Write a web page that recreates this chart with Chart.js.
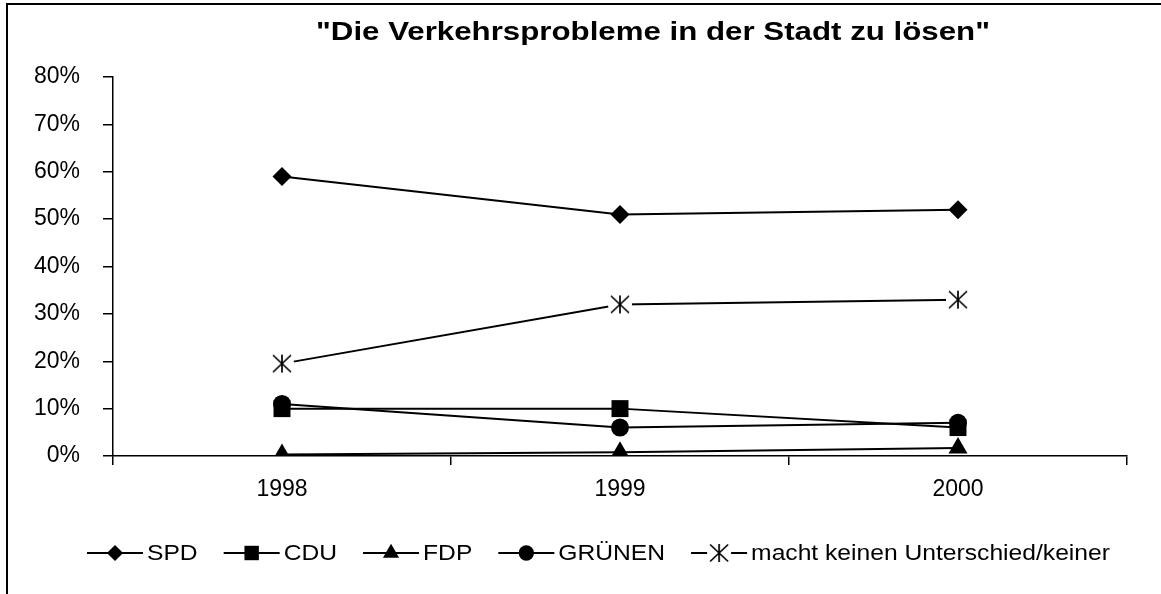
<!DOCTYPE html>
<html><head><meta charset="utf-8">
<script src="https://cdn.jsdelivr.net/npm/chart.js@4.4.1/dist/chart.umd.min.js"></script>
<style>html,body{margin:0;padding:0;background:#fff;}canvas{display:block}</style>
</head><body>
<canvas id="c" width="1161" height="594"></canvas>
<script>
// ---- data ----
const years = ['1998', '1999', '2000'];
const seriesNames = ['SPD', 'CDU', 'FDP', 'GRÜNEN', 'macht keinen Unterschied/keiner'];
const spd = [59, 51, 52];
const cdu = [10, 10, 6];
const fdp = [0.3, 0.8, 1.7];
const gruenen = [11, 6, 7];
const keiner = [19.5, 32, 33];
const yTickValues = [0, 10, 20, 30, 40, 50, 60, 70, 80];
const titleText = '"Die Verkehrsprobleme in der Stadt zu lösen"';

const FONT = 'Liberation Sans';

function makeStar() {
  const c = document.createElement('canvas');
  c.width = 26; c.height = 26;
  const g = c.getContext('2d');
  g.fillStyle = '#fff';
  g.beginPath(); g.arc(13, 13, 12, 0, Math.PI * 2); g.fill();
  g.strokeStyle = '#000'; g.lineWidth = 1.7;
  g.beginPath();
  g.moveTo(13, 4); g.lineTo(13, 22);
  g.moveTo(4, 4.5); g.lineTo(22, 21.5);
  g.moveTo(22, 4.5); g.lineTo(4, 21.5);
  g.stroke();
  return c;
}
const starImg = makeStar();

const styles = [
  { pointStyle: 'rectRot', radius: 9.5 },
  { pointStyle: 'rect', radius: 12 },
  { pointStyle: 'triangle', radius: 11 },
  { pointStyle: 'circle', radius: 9 },
  { pointStyle: starImg, radius: 10 }
];
const seriesValues = [spd, cdu, fdp, gruenen, keiner];

const datasets = seriesValues.map((vals, i) => ({
  label: seriesNames[i],
  data: vals,
  borderColor: '#000',
  backgroundColor: '#000',
  borderWidth: 2,
  pointStyle: styles[i].pointStyle,
  pointRadius: styles[i].radius,
  pointBackgroundColor: '#000',
  pointBorderColor: '#000',
  pointBorderWidth: 0,
  tension: 0,
  fill: false
}));

const framePlugin = {
  id: 'frame',
  beforeDraw(chart) {
    const ctx = chart.ctx;
    ctx.save();
    ctx.fillStyle = '#fff';
    ctx.fillRect(0, 0, chart.width, chart.height);
    ctx.strokeStyle = '#000';
    ctx.lineWidth = 2;
    ctx.strokeRect(7, 4, chart.width + 20, chart.height + 20);
    ctx.restore();
  }
};

const titlePlugin = {
  id: 'stretchedTitle',
  afterDraw(chart) {
    const ctx = chart.ctx;
    ctx.save();
    ctx.font = 'bold 25px "' + FONT + '"';
    ctx.fillStyle = '#000';
    ctx.textAlign = 'center';
    ctx.textBaseline = 'middle';
    ctx.translate(653, 33);
    ctx.scale(1.25, 1);
    ctx.fillText(titleText, 0, 0);
    ctx.restore();
  }
};

const legendPlugin = {
  id: 'customLegend',
  afterDraw(chart) {
    const ctx = chart.ctx;
    ctx.save();
    ctx.font = '22px "' + FONT + '"';
    ctx.textBaseline = 'middle';
    ctx.textAlign = 'left';
    const y = 553;
    const stretch = 1.12;
    let x = 87;
    const symW = 56, gapText = 4, spacing = 26;
    chart.data.datasets.forEach((ds, i) => {
      ctx.strokeStyle = '#000';
      ctx.fillStyle = '#000';
      ctx.lineWidth = 2;
      ctx.beginPath(); ctx.moveTo(x, y); ctx.lineTo(x + symW, y); ctx.stroke();
      Chart.helpers.drawPoint(ctx, {
        pointStyle: ds.pointStyle,
        radius: i === 4 ? 9 : ds.pointRadius * 0.85,
        rotation: 0,
        borderWidth: 0
      }, x + symW / 2, y);
      const tx = x + symW + gapText;
      ctx.save();
      ctx.fillStyle = '#000';
      ctx.translate(tx, y + 1);
      ctx.scale(stretch, 1);
      ctx.fillText(ds.label, 0, 0);
      ctx.restore();
      x = tx + ctx.measureText(ds.label).width * stretch + spacing;
    });
    ctx.restore();
  }
};

new Chart(document.getElementById('c'), {
  type: 'line',
  data: { labels: years, datasets: datasets },
  options: {
    responsive: false,
    animation: false,
    devicePixelRatio: 1,
    layout: { padding: { left: 0, right: 34, top: 77, bottom: 0 } },
    plugins: {
      legend: { display: false },
      tooltip: { enabled: false },
      title: { display: false }
    },
    scales: {
      x: {
        type: 'category',
        offset: true,
        grid: { offset: true, drawOnChartArea: false, drawTicks: true, tickLength: 9, color: '#000', lineWidth: 1.5 },
        border: { display: true, color: '#000', width: 1.5 },
        ticks: { color: '#000', font: { family: FONT, size: 23 }, padding: 11, maxRotation: 0 },
        afterFit(scale) { scale.height = 138; }
      },
      y: {
        min: 0,
        max: 80,
        afterBuildTicks(scale) { scale.ticks = yTickValues.map(v => ({ value: v })); },
        grid: { drawOnChartArea: false, drawTicks: true, tickLength: 10, color: '#000', lineWidth: 1.5 },
        border: { display: true, color: '#000', width: 1.5 },
        ticks: { color: '#000', font: { family: FONT, size: 23 }, padding: 23, callback: v => v + '%' },
        afterFit(scale) { scale.width = 113; }
      }
    }
  },
  plugins: [framePlugin, titlePlugin, legendPlugin]
});
</script>
</body></html>
